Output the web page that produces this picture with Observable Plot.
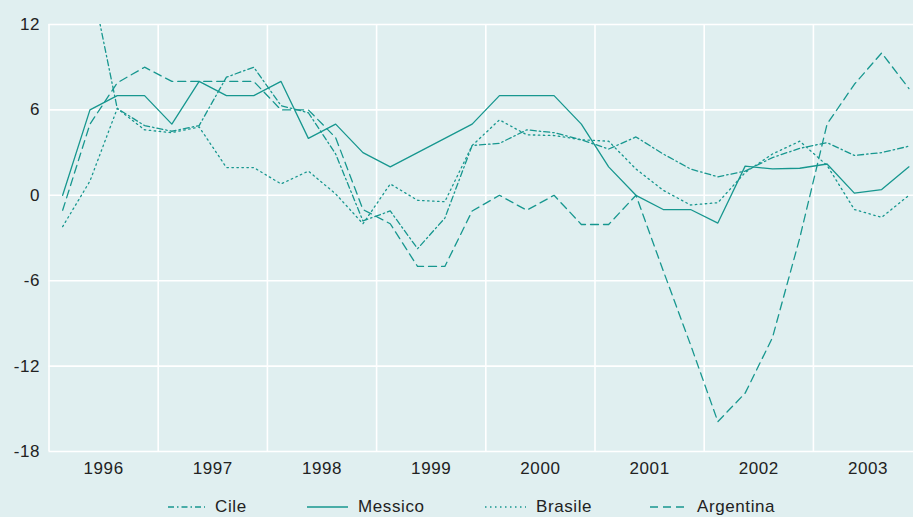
<!DOCTYPE html>
<html><head><meta charset="utf-8">
<script src="https://cdn.jsdelivr.net/npm/d3@7"></script>
<script src="https://cdn.jsdelivr.net/npm/@observablehq/plot@0.6"></script>
<style>
html,body{margin:0;padding:0;background:#e0eff0;}
#wrap{position:relative;width:913px;height:517px;background:#e0eff0;overflow:hidden;font-family:"Liberation Sans",Arial,sans-serif;}
#chart svg{display:block;}
.item{position:absolute;top:497px;height:20px;display:flex;align-items:center;font-size:17px;line-height:20px;color:#222;letter-spacing:0.6px;white-space:nowrap;}
.item svg{display:block;margin-right:10px;}
</style></head><body>
<div id="wrap"><div id="chart"></div></div>
<script>
const years = [1996, 1997, 1998, 1999, 2000, 2001, 2002, 2003];
const yTicks = [12, 6, 0, -6, -12, -18];
const seriesNames = ["Cile", "Messico", "Brasile", "Argentina"];
// quarterly values, Q1 1996 .. Q4 2003
const cile = [14, 15.5, 6.1, 4.9, 4.5, 4.9, 8.3, 9.0, 6.3, 5.8, 2.9, -1.8, -1.1, -3.75, -1.6, 3.5, 3.65, 4.6, 4.4, 3.9, 3.25, 4.1, 2.9, 1.85, 1.3, 1.7, 2.65, 3.3, 3.7, 2.8, 3.0, 3.45];
const messico = [0, 6, 7, 7, 5, 8, 7, 7, 8, 4, 5, 3, 2, 3, 4, 5, 7, 7, 7, 5, 2, 0, -1, -1, -1.95, 2.05, 1.85, 1.9, 2.2, 0.15, 0.4, 2.0];
const brasile = [-2.2, 1.0, 6.1, 4.6, 4.4, 4.8, 1.95, 1.95, 0.8, 1.7, 0.1, -2.0, 0.8, -0.35, -0.45, 3.5, 5.3, 4.25, 4.2, 3.9, 3.8, 1.85, 0.35, -0.68, -0.52, 1.6, 2.9, 3.8, 2.1, -1.0, -1.55, 0.0];
const argentina = [-1.05, 5.0, 7.9, 9.0, 8, 8, 8, 8, 6, 6, 4.05, -1.0, -2.0, -5, -5, -1.1, 0, -1.05, 0, -2.05, -2.05, 0, -5.3, -10.5, -15.9, -13.9, -10.0, -3.0, 5.0, 7.8, 10.0, 7.5];

const seriesValues = [cile, messico, brasile, argentina];
const dashes = {Cile: "6,3,1.5,3", Messico: null, Brasile: "1.5,3.5", Argentina: "8,5"};
const col = "#17978f";

const data = [];
seriesNames.forEach((name, si) => {
  seriesValues[si].forEach((v, i) => {
    data.push({series: name, t: years[Math.floor(i / 4)] + ((i % 4) + 0.5) / 4, v});
  });
});

const chart = Plot.plot({
  width: 913,
  height: 482,
  marginLeft: 48.5,
  marginRight: 0,
  marginTop: 24,
  marginBottom: 31,
  style: {background: "#e0eff0", fontFamily: "'Liberation Sans', Arial, sans-serif", fontSize: "17px", color: "#222", letterSpacing: "0.6px"},
  x: {domain: [1996, 1996 + (913 - 48.5) / 109.2], axis: null},
  y: {domain: [-18, 12], axis: null},
  marks: [
    Plot.ruleY(yTicks, {stroke: "white", strokeWidth: 1.6}),
    Plot.ruleX(years, {stroke: "white", strokeWidth: 1.6}),
    ...seriesNames.map(name => Plot.line(data.filter(d => d.series === name), {
      x: "t", y: "v", stroke: col, strokeWidth: 1.3,
      strokeDasharray: dashes[name], clip: true
    })),
    Plot.axisY(yTicks, {tickSize: 0, tickPadding: 9, fontSize: 17, fill: "#222", label: null, tickFormat: d => String(d)}),
    Plot.axisX(years.map(y => y + 0.5), {tickSize: 0, tickPadding: 10, fontSize: 17, fill: "#222", label: null, tickFormat: d => String(Math.round(d - 0.5))})
  ]
});
document.getElementById("chart").appendChild(chart);

// legend below the chart
const legendPos = [
  {name: "Cile", left: 168, len: 37},
  {name: "Messico", left: 307, len: 41},
  {name: "Brasile", left: 485, len: 41},
  {name: "Argentina", left: 650, len: 37}
];
const wrap = document.getElementById("wrap");
legendPos.forEach(p => {
  const div = document.createElement("div");
  div.className = "item";
  div.style.left = p.left + "px";
  const dash = dashes[p.name];
  div.innerHTML = `<svg width="${p.len}" height="20"><line x1="0" x2="${p.len}" y1="10" y2="10" stroke="${col}" stroke-width="1.3" ${dash ? `stroke-dasharray="${dash}"` : ""}/></svg><span>${p.name}</span>`;
  wrap.appendChild(div);
});
</script>
</body></html>
